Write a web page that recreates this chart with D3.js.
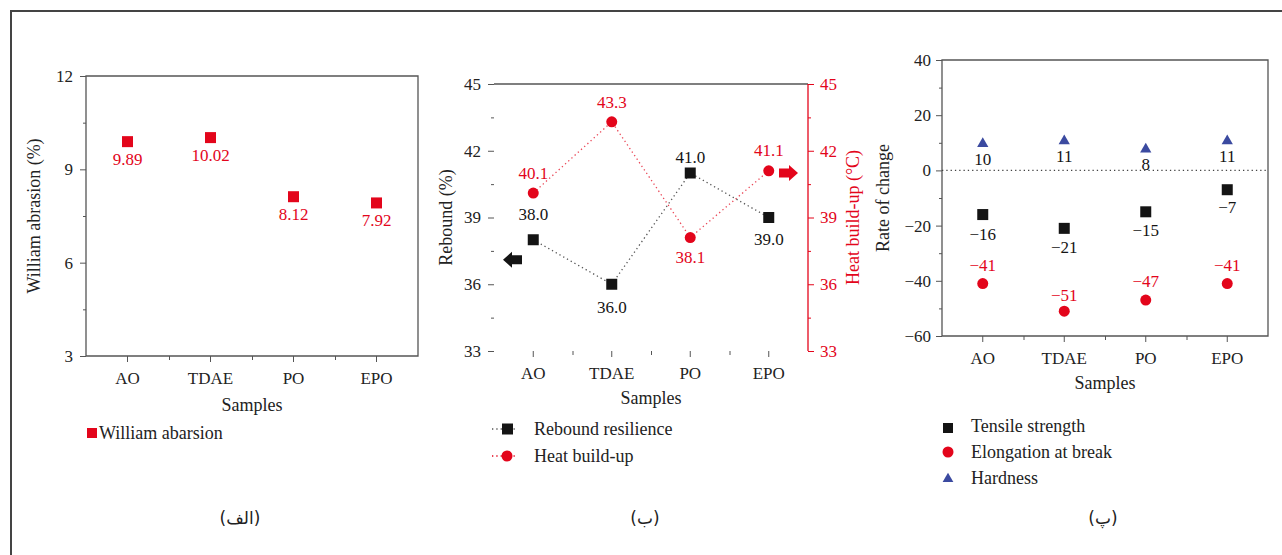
<!DOCTYPE html>
<html>
<head>
<meta charset="utf-8">
<script src="https://cdn.jsdelivr.net/npm/d3@7"></script>
<style>
  body { margin: 0; background: #fff; }
  svg text { font-family: "Liberation Serif", "DejaVu Serif", serif; }
</style>
</head>
<body>
<svg id="chart" width="1282" height="555"></svg>
<script>
// ---- data ----
const samples = ["AO", "TDAE", "PO", "EPO"];

const abrasion = [9.89, 10.02, 8.12, 7.92];
const abrasionTicks = [3, 6, 9, 12];

const rebound = [38.0, 36.0, 41.0, 39.0];
const heatBuildUp = [40.1, 43.3, 38.1, 41.1];
const reboundTicks = [33, 36, 39, 42, 45];

const tensileChange = [-16, -21, -15, -7];
const elongationChange = [-41, -51, -47, -41];
const hardnessChange = [10, 11, 8, 11];
const changeTicks = [-60, -40, -20, 0, 20, 40];

const panelLabels = ["(الف)", "(ب)", "(پ)"];

// ---- style ----
const RED = "#e3051b", BLACK = "#141414", BLUE = "#3b4aa0", AXIS = "#555", TXT = "#222";
const FS = 17, LFS = 18;

const svg = d3.select("#chart");

// outer frame
svg.append("line").attr("x1", 11).attr("x2", 11).attr("y1", 10).attr("y2", 555)
  .attr("stroke", "#444").attr("stroke-width", 2);
svg.append("line").attr("x1", 10).attr("x2", 1282).attr("y1", 11).attr("y2", 11)
  .attr("stroke", "#444").attr("stroke-width", 2);

function styleAxis(g, color) {
  g.select(".domain").remove();
  g.selectAll("line").attr("stroke", color);
  g.selectAll("text").attr("fill", color === AXIS ? TXT : color)
    .style("font-family", "Liberation Serif").style("font-size", FS + "px");
}

function makePanel(o) {
  const x = d3.scaleBand().domain(samples).range([o.left, o.right]);
  const bounds = d3.scaleLinear().domain([0, samples.length]).range([o.left, o.right]);
  const y = d3.scaleLinear().domain(o.yDomain).range([o.bottom, o.top]);

  // y axis major + minor
  const ya = svg.append("g").attr("transform", `translate(${o.left},0)`)
    .call(d3.axisLeft(y).tickValues(o.yTicks).tickSize(6).tickPadding(o.yPad || 6));
  styleAxis(ya, AXIS);
  const minor = d3.range(o.yTicks.length - 1).map(i => (o.yTicks[i] + o.yTicks[i + 1]) / 2);
  const ym = svg.append("g").attr("transform", `translate(${o.left},0)`)
    .call(d3.axisLeft(y).tickValues(minor).tickSize(3).tickFormat(""));
  styleAxis(ym, AXIS);

  // x axis
  const xa = svg.append("g").attr("transform", `translate(0,${o.bottom})`)
    .call(d3.axisBottom(x).tickSize(6).tickPadding(10));
  styleAxis(xa, AXIS);
  const xm = svg.append("g").attr("transform", `translate(0,${o.bottom})`)
    .call(d3.axisBottom(bounds).tickValues(d3.range(1, samples.length)).tickSize(4).tickFormat(""));
  styleAxis(xm, AXIS);

  // box
  svg.append("path")
    .attr("d", `M${o.left},${o.top}H${o.right}` + (o.noRight ? "" : `V${o.bottom}`) + `H${o.left}Z`)
    .attr("fill", "none").attr("stroke", AXIS).attr("stroke-width", 1.3);

  // titles
  svg.append("text").attr("transform", `translate(${o.yTitleX},${(o.top + o.bottom) / 2}) rotate(-90)`)
    .attr("text-anchor", "middle").attr("fill", TXT).style("font-size", LFS + "px").text(o.yTitle);
  svg.append("text").attr("x", (o.left + o.right) / 2).attr("y", o.xTitleY)
    .attr("text-anchor", "middle").attr("fill", TXT).style("font-size", LFS + "px").text("Samples");

  return { x, y, cx: d => x(d) + x.bandwidth() / 2 };
}

function squares(p, vals, color, size) {
  svg.append("g").selectAll("rect").data(vals).join("rect")
    .attr("x", (d, i) => p.cx(samples[i]) - size / 2)
    .attr("y", d => p.y(d) - size / 2)
    .attr("width", size).attr("height", size).attr("fill", color);
}
function circles(p, vals, color, r) {
  svg.append("g").selectAll("circle").data(vals).join("circle")
    .attr("cx", (d, i) => p.cx(samples[i])).attr("cy", d => p.y(d))
    .attr("r", r).attr("fill", color);
}
function triangles(p, vals, color) {
  svg.append("g").selectAll("path").data(vals).join("path")
    .attr("d", d3.symbol(d3.symbolTriangle, 55))
    .attr("transform", (d, i) => `translate(${p.cx(samples[i])},${p.y(d) + 1})`)
    .attr("fill", color);
}
function labels(p, vals, color, dys, fmt) {
  svg.append("g").selectAll("text").data(vals).join("text")
    .attr("x", (d, i) => p.cx(samples[i])).attr("y", (d, i) => p.y(d) + dys[i])
    .attr("dy", "0.35em").attr("text-anchor", "middle").attr("fill", color)
    .style("font-size", FS + "px").text(fmt);
}
const minus = v => (v < 0 ? "\u2212" + Math.abs(v) : String(v));

// ---- panel 1: William abrasion ----
const p1 = makePanel({
  left: 86, right: 418, top: 76, bottom: 356, yDomain: [3, 12], yTicks: abrasionTicks,
  yTitle: "William abrasion (%)", yTitleX: 40, xTitleY: 411, yPad: 7
});
squares(p1, abrasion, RED, 11);
labels(p1, abrasion, RED, [17, 17, 17, 17], d => d.toFixed(2));
svg.append("rect").attr("x", 87).attr("y", 428).attr("width", 10).attr("height", 10).attr("fill", RED);
svg.append("text").attr("x", 99).attr("y", 433).attr("dy", "0.35em").attr("fill", TXT)
  .style("font-size", LFS + "px").text("William abarsion");

// ---- panel 2: rebound & heat build-up ----
const p2 = makePanel({
  left: 494, right: 808, top: 84, bottom: 351, yDomain: [33, 45], yTicks: reboundTicks,
  yTitle: "Rebound (%)", yTitleX: 452, xTitleY: 404, yPad: 7, noRight: true
});
// right axis in red
const yR = d3.scaleLinear().domain([33, 45]).range([351, 84]);
const ra = svg.append("g").attr("transform", "translate(808,0)")
  .call(d3.axisRight(yR).tickValues(reboundTicks).tickSize(6).tickPadding(6));
styleAxis(ra, RED);
const rm = svg.append("g").attr("transform", "translate(808,0)")
  .call(d3.axisRight(yR).tickValues([34.5, 37.5, 40.5, 43.5]).tickSize(3).tickFormat(""));
styleAxis(rm, RED);
svg.append("line").attr("x1", 808).attr("x2", 808).attr("y1", 84).attr("y2", 351)
  .attr("stroke", RED).attr("stroke-width", 1.3);
svg.append("text").attr("transform", `translate(859,${(84 + 351) / 2}) rotate(-90)`)
  .attr("text-anchor", "middle").attr("fill", RED).style("font-size", LFS + "px").text("Heat build-up (°C)");

const line2 = vals => d3.line().x((d, i) => p2.cx(samples[i])).y(d => p2.y(d))(vals);
svg.append("path").attr("d", line2(rebound)).attr("fill", "none")
  .attr("stroke", "#555").attr("stroke-width", 1.3).attr("stroke-dasharray", "1.3,3");
svg.append("path").attr("d", line2(heatBuildUp)).attr("fill", "none")
  .attr("stroke", RED).attr("stroke-width", 1.3).attr("stroke-dasharray", "1.3,3").attr("opacity", 0.75);
squares(p2, rebound, BLACK, 11);
circles(p2, heatBuildUp, RED, 5.5);
labels(p2, rebound, BLACK, [-26, 23, -16, 22], d => d.toFixed(1));
labels(p2, heatBuildUp, RED, [-20, -20, 20, -21], d => d.toFixed(1));

// axis arrows
const arrowPath = "M0,0 L9,-8 L9,-4.5 L19,-4.5 L19,4.5 L9,4.5 L9,8 Z";
svg.append("path").attr("d", arrowPath).attr("fill", BLACK)
  .attr("transform", `translate(${p2.x("AO") + 9},${p2.y(37.1)})`);
svg.append("path").attr("d", arrowPath).attr("fill", RED)
  .attr("transform", `translate(${p2.x("EPO") + p2.x.bandwidth() - 10},${p2.y(41.0)}) scale(-1,1)`);

// legend 2
[[BLACK, "Rebound resilience", "#555"], [RED, "Heat build-up", RED]].forEach((d, i) => {
  const ly = 429 + i * 27;
  svg.append("line").attr("x1", 492).attr("x2", 517).attr("y1", ly).attr("y2", ly)
    .attr("stroke", d[2]).attr("stroke-width", 1.3).attr("stroke-dasharray", "1.3,3");
  if (i === 0) svg.append("rect").attr("x", 502).attr("y", ly - 5.5).attr("width", 11).attr("height", 11).attr("fill", d[0]);
  else svg.append("circle").attr("cx", 507).attr("cy", ly).attr("r", 5.5).attr("fill", d[0]);
  svg.append("text").attr("x", 534).attr("y", ly).attr("dy", "0.35em").attr("fill", TXT)
    .style("font-size", LFS + "px").text(d[1]);
});

// ---- panel 3: rate of change ----
const p3 = makePanel({
  left: 942, right: 1268, top: 60, bottom: 336, yDomain: [-60, 40], yTicks: changeTicks,
  yTitle: "Rate of change", yTitleX: 889, xTitleY: 389, yPad: 5
});
svg.append("line").attr("x1", 942).attr("x2", 1268).attr("y1", p3.y(0)).attr("y2", p3.y(0))
  .attr("stroke", "#444").attr("stroke-width", 1.3).attr("stroke-dasharray", "1.3,3");
triangles(p3, hardnessChange, BLUE);
squares(p3, tensileChange, BLACK, 11);
circles(p3, elongationChange, RED, 5.5);
labels(p3, hardnessChange, BLACK, [16, 16, 16, 16], minus);
labels(p3, tensileChange, BLACK, [19, 19, 18, 17], minus);
labels(p3, elongationChange, RED, [-19, -16, -19, -19], minus);

// legend 3
[["rect", BLACK, "Tensile strength"], ["circle", RED, "Elongation at break"], ["tri", BLUE, "Hardness"]].forEach((d, i) => {
  const ly = 426 + i * 26;
  if (d[0] === "rect") svg.append("rect").attr("x", 943).attr("y", ly - 3).attr("width", 10).attr("height", 10).attr("fill", d[1]);
  else if (d[0] === "circle") svg.append("circle").attr("cx", 948).attr("cy", ly).attr("r", 5.5).attr("fill", d[1]);
  else svg.append("path").attr("d", d3.symbol(d3.symbolTriangle, 50)).attr("transform", `translate(948,${ly + 1})`).attr("fill", d[1]);
  svg.append("text").attr("x", 971).attr("y", ly).attr("dy", "0.35em").attr("fill", TXT)
    .style("font-size", LFS + "px").text(d[2]);
});

// panel captions
[240, 645, 1103].forEach((cx, i) => {
  svg.append("text").attr("x", cx).attr("y", 518).attr("dy", "0.35em").attr("text-anchor", "middle")
    .attr("fill", TXT).style("font-family", "DejaVu Sans").style("font-size", "17px")
    .attr("direction", "rtl").text(panelLabels[i]);
});
</script>
</body>
</html>
